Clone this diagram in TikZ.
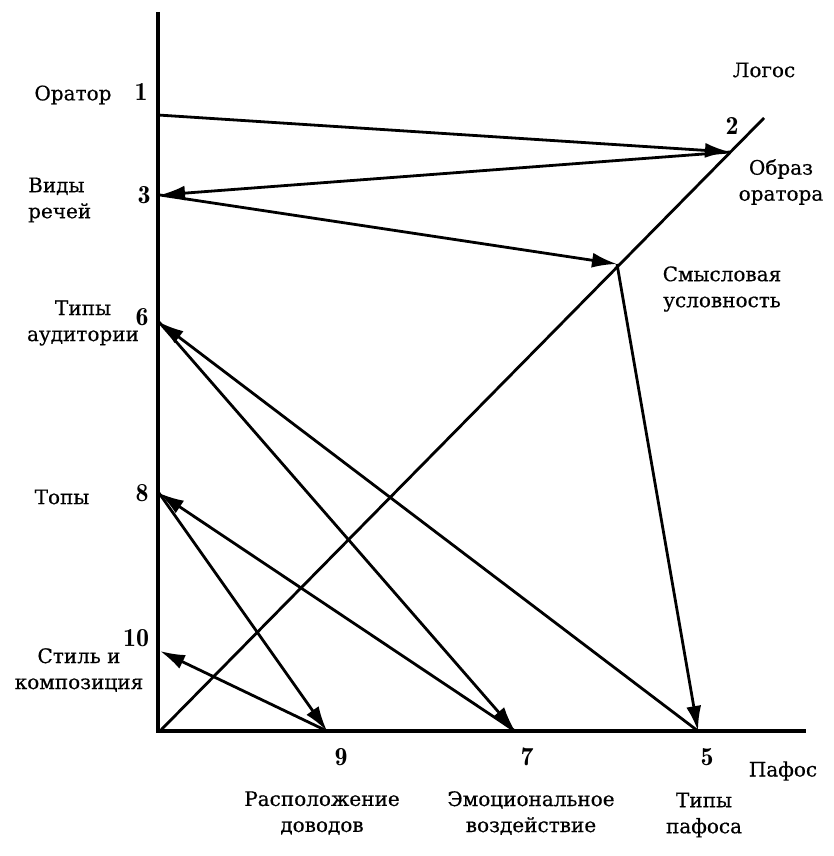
\documentclass[tikz,border=0pt]{standalone}
\usepackage{fontspec}
\newfontfamily\lbl[FakeBold=0.5]{DejaVu Serif}
\newfontfamily\numfont{lmromandemi10-regular.otf}
\usetikzlibrary{arrows.meta}
\begin{document}
\begin{tikzpicture}[x=1pt,y=-1pt,
  axis/.style={line width=3.2pt},
  conn/.style={line width=2.8pt,-{Latex[length=25pt,width=15pt]}},
  plain/.style={line width=2.8pt},
  word/.style={font=\lbl\fontsize{20}{26}\selectfont,align=center,inner sep=0pt},
  num/.style={font=\numfont\fontsize{26}{26}\selectfont,inner sep=0pt}]
\useasboundingbox (0,0) rectangle (834,856);
% axes
\coordinate (vtop) at (158,12);
\coordinate (vbot) at (158,733);
\coordinate (hl) at (157,731);
\coordinate (hr) at (806,731);
\coordinate (dA) at (160,731);
\coordinate (dB) at (764,118);
\draw[axis] (vtop) -- (vbot);
\draw[axis] (hl) -- (hr);
\draw[plain] (dA) -- (dB);
% points
\coordinate (p1) at (158,115);
\coordinate (p2) at (730,152);
\coordinate (p3) at (160,195);
\coordinate (p4) at (617,264);
\coordinate (p5) at (698,731);
\coordinate (p6) at (159,322);
\coordinate (p7) at (515,731);
\coordinate (p8) at (159,493);
\coordinate (p9) at (327,731);
\coordinate (p10) at (160,651);
% connectors
\draw[conn] (p1) -- (p2);
\draw[conn] (p2) -- (p3);
\draw[conn] (p3) -- (p4);
\draw[conn] (p4) -- (p5);
\draw[conn] (p5) -- (p6);
\draw[conn] (p6) -- (p7);
\draw[conn] (p7) -- (p8);
\draw[conn] (p8) -- (p9);
\draw[conn] (p9) -- (p10);
% numbers
\node[num] (n1) at (141,92) {1};
\node[num] (n2) at (732,126) {2};
\node[num] (n3) at (144,195) {3};
\node[num] (n6) at (142,317) {6};
\node[num] (n8) at (142,493) {8};
\node[num] (n10) at (136,638) {10};
\node[num] (n9) at (341,757) {9};
\node[num] (n7) at (527,757) {7};
\node[num] (n5) at (707,757) {5};
% words
\node[word] (t1) at (73,95) {Оратор};
\node[word,align=left,anchor=west] (t3) at (28,200) {Виды\\речей};
\node[word] (t6) at (83,323) {Типы\\аудитории};
\node[word] (t8) at (62,497) {Топы};
\node[word] (t10) at (79,670) {Стиль и\\композиция};
\node[word] (tl) at (764,70) {Логос};
\node[word] (t2) at (781,182) {Образ\\оратора};
\node[word] (t4) at (722,289) {Смысловая\\условность};
\node[word] (tp) at (783,771) {Пафос};
\node[word] (t9) at (322,813) {Расположение\\доводов};
\node[word] (t7) at (531,813) {Эмоциональное\\воздействие};
\node[word] (t5) at (704,815) {Типы\\пафоса};
\end{tikzpicture}
\end{document}
